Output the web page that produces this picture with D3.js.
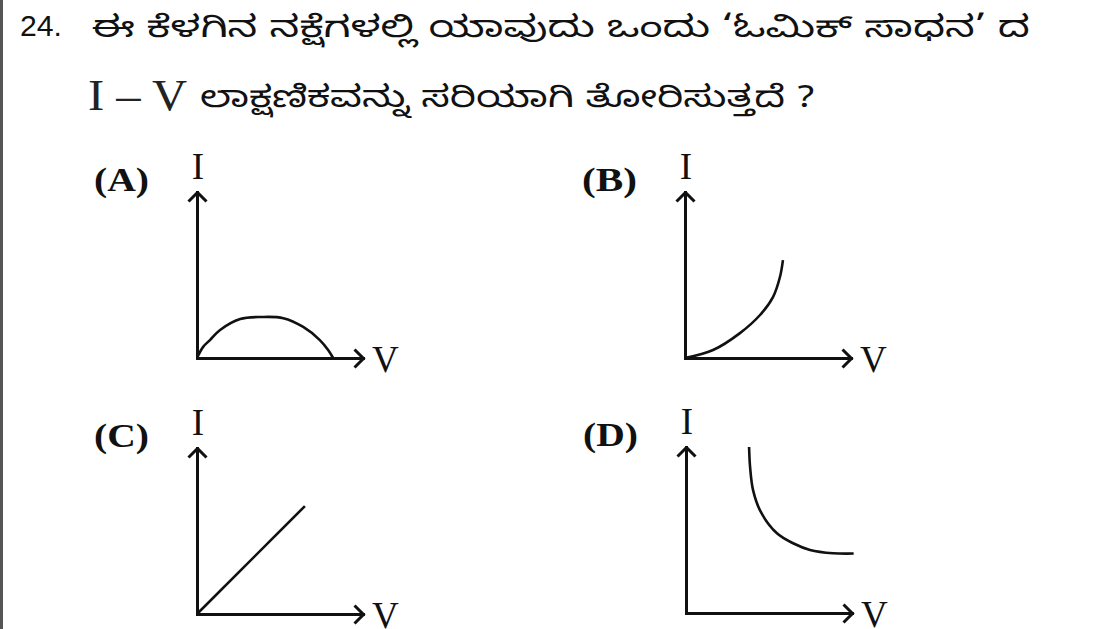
<!DOCTYPE html>
<html>
<head>
<meta charset="utf-8">
<script src="https://cdn.jsdelivr.net/npm/d3@7"></script>
<style>
  body { margin: 0; background: #fff; }
  svg { display: block; }
</style>
</head>
<body>
<svg width="1107" height="629"></svg>
<script>
// question text
const qNumber = '24.';
const qLine1 = 'ಈ ಕೆಳಗಿನ ನಕ್ಷೆಗಳಲ್ಲಿ ಯಾವುದು ಒಂದು ‘ಓಮಿಕ್ ಸಾಧನ’ ದ';
const qLine2Lead = 'I – V';
const qLine2 = 'ಲಾಕ್ಷಣಿಕವನ್ನು ಸರಿಯಾಗಿ ತೋರಿಸುತ್ತದೆ ?';

// options and axis names
const optionLabels = ['(A)', '(B)', '(C)', '(D)'];
const axisNames = ['I', 'V'];

// curves, in axis units (0..10 along each axis)
const curveA = [[0, 0], [0.37, 0.67], [0.78, 1.08], [1.39, 1.69], [2.6, 2.35], [3.9, 2.47],
                [5.2, 2.4], [6.4, 1.87], [7.4, 1.08], [7.9, 0.48], [8.2, 0]];
const curveB = [[0, 0], [1.69, 0.48], [3.31, 1.5], [4.52, 2.59], [5.3, 3.67], [5.72, 4.88], [5.9, 5.9]];
const curveC = [[0, 0], [6.5, 6.5]];
const curveD = [[3.8, 10], [3.86, 8.8], [4.04, 7.4], [4.5, 6.1], [5.48, 4.8], [6.45, 4.2],
                [7.47, 3.8], [8.86, 3.6], [10.1, 3.58]];
const curves = [curveA, curveB, curveC, curveD];

// panel origins on the page
const origins = [[197, 358], [685, 358], [197, 614], [686, 613]];
const axisLen = 166;

const svg = d3.select('svg');
svg.append('rect').attr('width', 1107).attr('height', 629).attr('fill', '#fff');
svg.append('line')
    .attr('x1', 1.5).attr('x2', 1.5).attr('y1', 0).attr('y2', 629)
    .attr('stroke', '#555').attr('stroke-width', 3);

svg.append('defs').append('marker')
    .attr('id', 'arrow')
    .attr('markerUnits', 'userSpaceOnUse')
    .attr('viewBox', '-12 -12 14 24')
    .attr('markerWidth', 14).attr('markerHeight', 24)
    .attr('refX', 0).attr('refY', 0)
    .attr('orient', 'auto')
  .append('path')
    .attr('d', 'M-9,-9L0,0L-9,9')
    .attr('fill', 'none')
    .attr('stroke', '#111')
    .attr('stroke-width', 3)
    .attr('stroke-linejoin', 'miter');

// header
const serif = '"Liberation Serif", "Times New Roman", serif';
const kannada = '"Noto Sans Kannada", "Tunga", "Noto Sans", sans-serif';

svg.append('text')
    .attr('x', 20).attr('y', 36)
    .attr('font-family', '"Liberation Sans", Arial, sans-serif')
    .attr('font-size', 29)
    .attr('fill', '#111')
    .attr('textLength', 42)
    .attr('lengthAdjust', 'spacingAndGlyphs')
    .text(qNumber);

svg.append('text')
    .attr('x', 92).attr('y', 37)
    .attr('font-family', kannada)
    .attr('font-size', 30)
    .attr('fill', '#111')
    .attr('textLength', 938)
    .attr('lengthAdjust', 'spacingAndGlyphs')
    .text(qLine1);

svg.append('text')
    .attr('x', 88).attr('y', 110)
    .attr('font-family', serif)
    .attr('font-size', 44)
    .attr('fill', '#222')
    .attr('textLength', 99)
    .attr('lengthAdjust', 'spacingAndGlyphs')
    .text(qLine2Lead);

svg.append('text')
    .attr('x', 200).attr('y', 107)
    .attr('font-family', kannada)
    .attr('font-size', 30)
    .attr('fill', '#111')
    .attr('textLength', 615)
    .attr('lengthAdjust', 'spacingAndGlyphs')
    .text(qLine2);

const line = d3.line().curve(d3.curveCatmullRom.alpha(0.5));

curves.forEach((data, i) => {
  const [ox, oy] = origins[i];
  const x = d3.scaleLinear().domain([0, 10]).range([ox, ox + axisLen]);
  const y = d3.scaleLinear().domain([0, 10]).range([oy, oy - axisLen]);

  const g = svg.append('g').attr('class', 'panel');

  // axes: domain path only, arrow at the end
  g.append('g')
      .attr('transform', `translate(0,${oy})`)
      .call(d3.axisBottom(x).tickValues([]).tickSizeOuter(0))
      .call(a => a.select('.domain')
        .attr('stroke', '#111').attr('stroke-width', 3)
        .attr('stroke-linecap', 'square')
        .attr('marker-end', 'url(#arrow)'));

  g.append('g')
      .attr('transform', `translate(${ox},0)`)
      .call(d3.axisLeft(y).tickValues([]).tickSizeOuter(0))
      .call(a => a.select('.domain')
        .attr('stroke', '#111').attr('stroke-width', 3)
        .attr('stroke-linecap', 'square')
        .attr('marker-end', 'url(#arrow)'));

  g.append('path')
      .datum(data)
      .attr('d', line.x(d => x(d[0])).y(d => y(d[1])))
      .attr('fill', 'none')
      .attr('stroke', '#111')
      .attr('stroke-width', 2.6);

  g.append('text')
      .attr('x', ox - 103).attr('y', oy - 167)
      .attr('font-family', serif)
      .attr('font-weight', 'bold')
      .attr('font-size', 33)
      .attr('fill', '#111')
      .attr('textLength', 55)
      .attr('lengthAdjust', 'spacingAndGlyphs')
      .text(optionLabels[i]);

  g.append('text')
      .attr('x', x(0) + 1).attr('y', y(10) - 13)
      .attr('text-anchor', 'middle')
      .attr('font-family', serif)
      .attr('font-size', 37)
      .attr('fill', '#111')
      .text(axisNames[0]);

  g.append('text')
      .attr('x', x(10) + 9).attr('y', oy + 14)
      .attr('font-family', serif)
      .attr('font-size', 37)
      .attr('fill', '#111')
      .text(axisNames[1]);
});
</script>
</body>
</html>
